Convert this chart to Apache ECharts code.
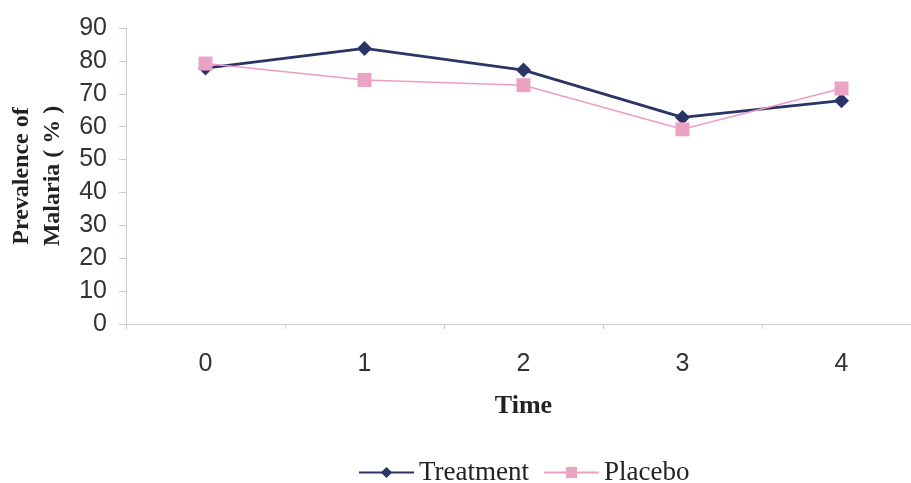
<!DOCTYPE html>
<html><head><meta charset="utf-8">
<script src="https://cdn.jsdelivr.net/npm/echarts@6/dist/echarts.min.js"></script>
<style>html,body{margin:0;padding:0;background:#fff}#c{width:911px;height:483px}</style>
</head><body><div id="c"></div>
<script>
const categories = ['0','1','2','3','4'];
const treatment = [77.8, 83.8, 77.2, 62.8, 67.9];
const placebo = [79.2, 74.2, 72.6, 59.2, 71.6];
const yTicks = {min:0, max:90, interval:10};

const chart = echarts.init(document.getElementById('c'));
chart.setOption({
  animation:false,
  backgroundColor:'#fff',
  grid:{left:126, top:28, height:296, width:795, containLabel:false, outerBoundsMode:'none'},
  legend:{
    top:454, left:353, itemGap:14, itemWidth:55, itemHeight:14,
    textStyle:{fontFamily:'Liberation Serif', fontSize:27, color:'#222'},
    data:['Treatment','Placebo']
  },
  xAxis:{
    type:'category', data:categories, boundaryGap:true,
    name:'Time', nameLocation:'middle', nameGap:69,
    nameTextStyle:{fontFamily:'Liberation Serif', fontWeight:'bold', fontSize:26, color:'#222'},
    axisLine:{lineStyle:{color:'#c8ccd4', width:1}},
    axisTick:{show:true, length:5, lineStyle:{color:'#c8ccd4'}},
    axisLabel:{fontFamily:'Liberation Sans', fontSize:25, color:'#333', margin:28},
    splitLine:{show:false}
  },
  yAxis:{
    type:'value', min:yTicks.min, max:yTicks.max, interval:yTicks.interval,
    name:'Prevalence of\nMalaria ( % )', nameLocation:'middle', nameGap:57, nameRotate:90,
    nameTextStyle:{fontFamily:'Liberation Serif', fontWeight:'bold', fontSize:24, color:'#222', lineHeight:31},
    axisLine:{show:true, lineStyle:{color:'#c8ccd4', width:1}},
    axisTick:{show:true, length:7, lineStyle:{color:'#c8ccd4'}},
    axisLabel:{fontFamily:'Liberation Sans', fontSize:25, color:'#333', margin:19},
    splitLine:{show:false}
  },
  series:[
    {name:'Treatment', type:'line', data:treatment, symbol:'diamond', symbolSize:15,
     lineStyle:{color:'#2a3466', width:2.8}, itemStyle:{color:'#2a3466'}},
    {name:'Placebo', type:'line', data:placebo, symbol:'rect', symbolSize:14,
     lineStyle:{color:'#ec9dc4', width:1.6}, itemStyle:{color:'#eba3c4'}}
  ]
});
</script></body></html>
